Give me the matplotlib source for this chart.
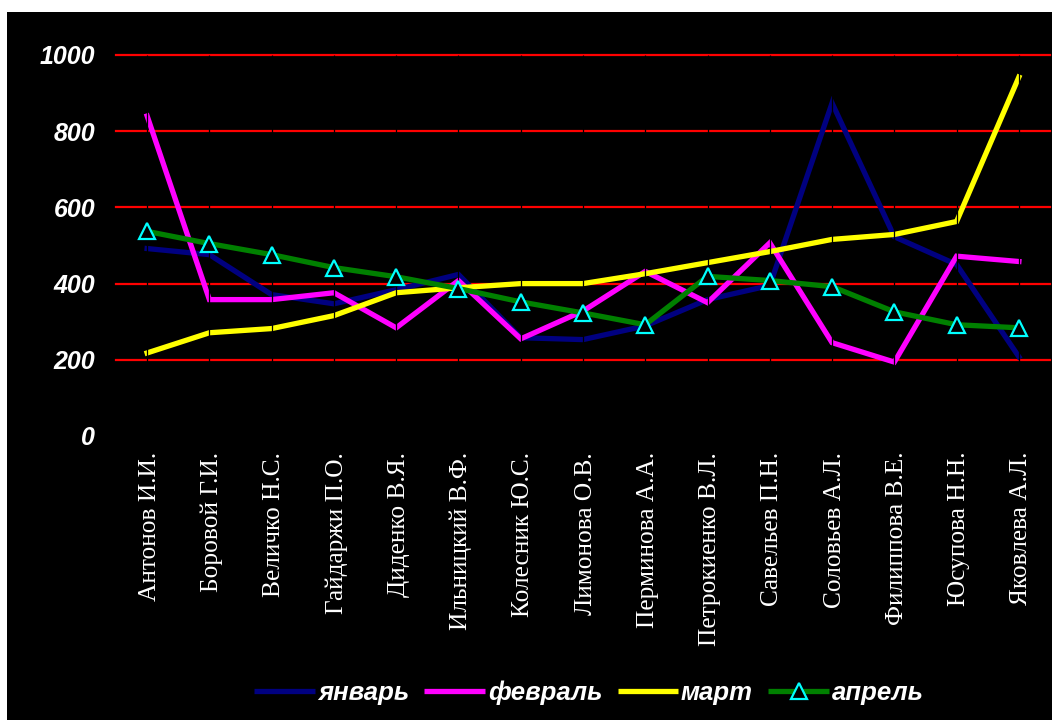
import matplotlib
matplotlib.use("Agg")
import matplotlib.pyplot as plt
from matplotlib.lines import Line2D
from matplotlib.patches import Rectangle
from matplotlib.transforms import ScaledTranslation

# Employees and monthly figures
names = ["Антонов И.И.", "Боровой Г.И.", "Величко Н.С.", "Гайдаржи П.О.",
         "Диденко В.Я.", "Ильницкий В.Ф.", "Колесник Ю.С.", "Лимонова О.В.",
         "Перминова А.А.", "Петрокиенко В.Л.", "Савельев П.Н.", "Соловьев А.Л.",
         "Филиппова В.Е.", "Юсупова Н.Н.", "Яковлева А.Л."]

january = [492, 476, 371, 347, 384, 424, 258, 253, 289, 358, 395, 874, 523, 450, 208]
february = [840, 358, 358, 376, 284, 408, 255, 328, 432, 350, 507, 245, 194, 472, 458]
march = [218, 271, 282, 316, 376, 389, 400, 400, 426, 455, 484, 516, 529, 563, 942]
april = [537, 505, 476, 442, 418, 387, 352, 323, 292, 419, 408, 392, 326, 292, 284]

month_labels = ["январь", "февраль", "март", "апрель"]
y_ticks = [0, 200, 400, 600, 800, 1000]

W, H = 1052, 720
fig = plt.figure(figsize=(W / 100, H / 100), dpi=100, facecolor="white")
fig.patches.append(Rectangle((7 / W, 0), 1, (H - 12) / H, transform=fig.transFigure,
                             facecolor="black", edgecolor="none", zorder=-10))

ax = fig.add_axes([116 / W, 1 - 436 / H, 934 / W, (436 - 55) / H])
ax.set_zorder(1)
ax.patch.set_alpha(0)

x = list(range(len(names)))
ax.set_xlim(-0.5, len(names) - 0.5)
ax.set_ylim(0, 1000)

# red horizontal gridlines (none at zero)
for v in y_ticks[1:]:
    ax.axhline(v, color="#ff0000", lw=1.6, zorder=1, clip_on=False)

lw = 3.8
ax.plot(x, january, color="#000080", lw=lw, zorder=2, solid_joinstyle="miter")
ax.plot(x, february, color="#ff00ff", lw=lw, zorder=2, solid_joinstyle="miter")
ax.plot(x, march, color="#ffff00", lw=lw, zorder=2, solid_joinstyle="miter")
ax.plot(x, april, color="#008000", lw=lw, zorder=2, solid_joinstyle="miter")

# thin dark category separators through each point
ax.vlines(x, 0, 1000, color="black", lw=0.9, zorder=3, clip_on=False)

ax.plot(x, april, ls="none", marker="^", markersize=12, markerfacecolor="black",
        markeredgecolor="#00ffff", markeredgewidth=1.6, zorder=4, clip_on=False)

for s in ax.spines.values():
    s.set_visible(False)

ax.set_yticks(y_ticks)
ax.set_yticklabels([str(v) for v in y_ticks], family="Liberation Sans",
                   weight="bold", style="italic", fontsize=18, color="white")
ax.set_xticks(x)
ax.set_xticklabels(names, rotation=90, family="Liberation Serif", fontsize=18.3,
                   color="white", ha="center", va="top")
ax.tick_params(axis="y", length=0, pad=15)
ax.tick_params(axis="x", length=0, pad=11.5)
shift = ScaledTranslation(2.5 / 100, 0, fig.dpi_scale_trans)
for lbl in ax.get_xticklabels():
    lbl.set_transform(lbl.get_transform() + shift)

handles = [
    Line2D([], [], color="#000080", lw=lw, solid_capstyle="butt"),
    Line2D([], [], color="#ff00ff", lw=lw, solid_capstyle="butt"),
    Line2D([], [], color="#ffff00", lw=lw, solid_capstyle="butt"),
    Line2D([], [], color="#008000", lw=lw, solid_capstyle="butt", marker="^", markersize=12,
           markerfacecolor="black", markeredgecolor="#00ffff", markeredgewidth=1.6),
]
leg = fig.legend(handles, month_labels, loc="center", bbox_to_anchor=(589 / W, 1 - 693 / H),
                 ncol=4, frameon=False, handlelength=2.35, handletextpad=0.12,
                 columnspacing=0.6,
                 prop={"family": "Liberation Sans", "weight": "bold", "style": "italic", "size": 18.5})
for t in leg.get_texts():
    t.set_color("white")

fig.savefig("out.png", dpi=100, facecolor="white")
